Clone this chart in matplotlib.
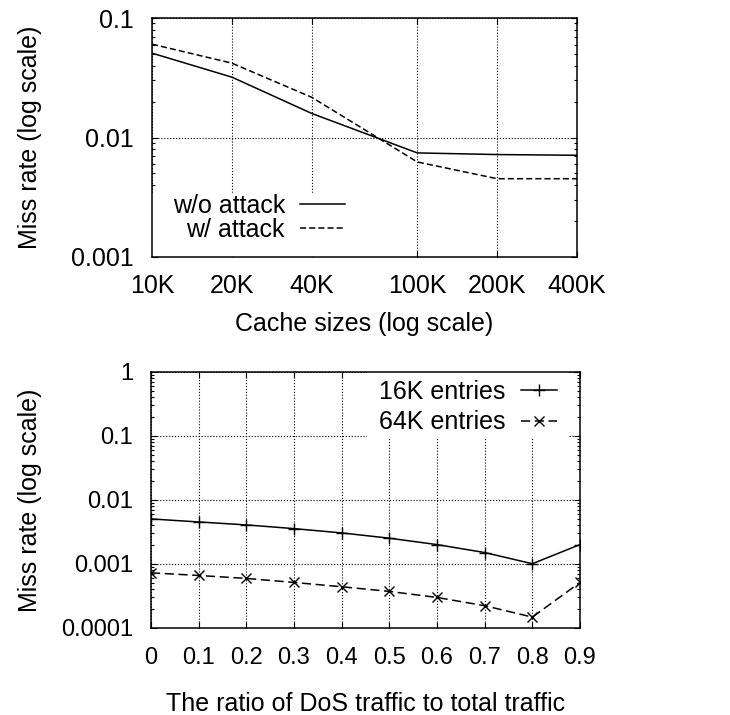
import matplotlib
matplotlib.use("Agg")
import matplotlib.pyplot as plt
from matplotlib.patches import Rectangle
from matplotlib.ticker import FixedLocator, FixedFormatter, NullLocator, LogLocator, FuncFormatter

plt.rcParams['font.family'] = ['Liberation Sans', 'DejaVu Sans']

# top panel: miss rate vs cache size
cache_sizes = [10000, 20000, 40000, 100000, 200000, 400000]
cache_labels = ["10K", "20K", "40K", "100K", "200K", "400K"]
miss_no_attack = [0.0508, 0.032, 0.0159, 0.00743, 0.0072, 0.0071]
miss_attack = [0.0604, 0.0419, 0.0217, 0.00624, 0.00452, 0.00452]

# bottom panel: miss rate vs DoS ratio
dos_ratio = [0, 0.1, 0.2, 0.3, 0.4, 0.5, 0.6, 0.7, 0.8, 0.9]
miss_16k = [0.00506, 0.00454, 0.00408, 0.00357, 0.00306, 0.00253, 0.00201, 0.00151, 0.00101, 0.00201]
miss_64k = [0.000728, 0.000662, 0.000595, 0.000515, 0.000441, 0.000373, 0.0003, 0.000223, 0.000148, 0.000515]

FS = 18
W, H = 730, 715


def style_axes(ax, pad_x, pad_y, labelsize):
    for s in ax.spines.values():
        s.set_linewidth(1.1)
    ax.tick_params(which='both', direction='in', top=True, right=True, labelsize=labelsize)
    ax.tick_params(which='major', length=4, width=0.8)
    ax.tick_params(which='minor', length=2, width=0.8)
    ax.tick_params(axis='x', pad=pad_x)
    ax.tick_params(axis='y', pad=pad_y)
    ax.grid(True, which='major', linestyle=':', linewidth=0.8, color='black', zorder=0)
    ax.set_axisbelow(True)


fig = plt.figure(figsize=(W / 100, H / 100), dpi=100)

# ---- top ----
ax1 = fig.add_axes([152 / W, (H - 257) / H, 425 / W, 239 / H])
ax1.set_xscale('log')
ax1.set_yscale('log')
ax1.plot(cache_sizes, miss_no_attack, color='black', lw=1.1, label='w/o attack', zorder=3)
ax1.plot(cache_sizes, miss_attack, color='black', lw=1.1, linestyle=(0, (4, 2)), label='w/ attack', zorder=3)
ax1.set_xlim(10000, 400000)
ax1.set_ylim(0.001, 0.1)
ax1.xaxis.set_major_locator(FixedLocator(cache_sizes))
ax1.xaxis.set_major_formatter(FixedFormatter(cache_labels))
ax1.xaxis.set_minor_locator(NullLocator())
ax1.yaxis.set_major_locator(LogLocator(base=10))
ax1.yaxis.set_minor_locator(LogLocator(base=10, subs=range(2, 10)))
ax1.yaxis.set_major_formatter(FuncFormatter(lambda v, p: '%g' % v))
style_axes(ax1, 12, 13, FS)
ax1.set_xlabel('Cache sizes (log scale)', fontsize=FS, labelpad=10)
ax1.set_ylabel('Miss rate (log scale)', fontsize=FS)
ax1.yaxis.set_label_coords(-0.259, 0.5)
# white key box hides the grid, like gnuplot
ax1.add_patch(Rectangle((0, 0), 0.482, 0.268, transform=ax1.transAxes,
                        facecolor='white', edgecolor='none', zorder=1))
ax1.legend(loc='center right', bbox_to_anchor=(0.454, 0.165), frameon=False,
           markerfirst=False, fontsize=FS, borderpad=0, borderaxespad=0,
           handlelength=1.8, handletextpad=0.6, labelspacing=0.0)

# ---- bottom ----
ax2 = fig.add_axes([151 / W, (H - 628) / H, 429 / W, 256 / H])
ax2.set_yscale('log')
ax2.plot(dos_ratio, miss_16k, color='black', lw=1.1, marker='+', ms=8, mew=1,
         label='16K entries', zorder=3)
ax2.plot(dos_ratio, miss_64k, color='black', lw=1.1, linestyle=(0, (6, 3)), marker='x',
         ms=7, mew=1, label='64K entries', zorder=3)
ax2.set_xlim(0, 0.9)
ax2.set_ylim(0.0001, 1)
ax2.xaxis.set_major_locator(FixedLocator(dos_ratio))
ax2.xaxis.set_major_formatter(FuncFormatter(lambda v, p: '%g' % round(v, 1)))
ax2.xaxis.set_minor_locator(NullLocator())
ax2.yaxis.set_major_locator(LogLocator(base=10))
ax2.yaxis.set_minor_locator(LogLocator(base=10, subs=range(2, 10)))
ax2.yaxis.set_major_formatter(FuncFormatter(lambda v, p: '%g' % v))
style_axes(ax2, 14, 13, 17)
ax2.set_xlabel('The ratio of DoS traffic to total traffic', fontsize=FS, labelpad=16)
ax2.set_ylabel('Miss rate (log scale)', fontsize=FS)
ax2.yaxis.set_label_coords(-0.254, 0.5)
ax2.add_patch(Rectangle((0.503, 0.742), 0.469, 0.258, transform=ax2.transAxes,
                        facecolor='white', edgecolor='none', zorder=1))
ax2.legend(loc='center right', bbox_to_anchor=(0.946, 0.862), frameon=False,
           markerfirst=False, fontsize=FS, borderpad=0, borderaxespad=0,
           handlelength=1.45, handletextpad=0.6, labelspacing=0.25)

fig.savefig('out.png', dpi=100)
